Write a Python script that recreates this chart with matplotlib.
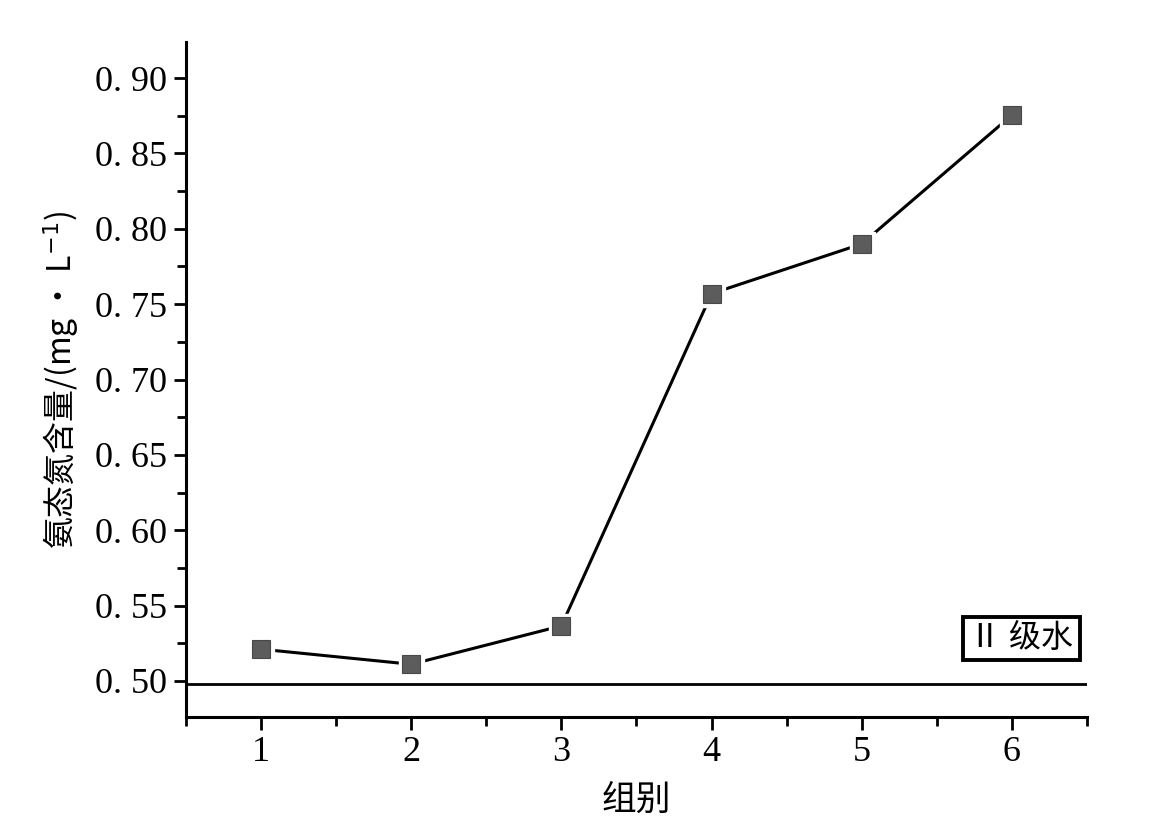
import matplotlib.pyplot as plt
from matplotlib.ticker import MultipleLocator, FixedLocator

plt.rcParams['font.family'] = ['Liberation Serif', 'Noto Sans CJK SC', 'DejaVu Sans']

groups = [1, 2, 3, 4, 5, 6]
ammonia = [0.521, 0.511, 0.5365, 0.757, 0.790, 0.8755]
grade2_limit = 0.498
y_ticks = [0.50, 0.55, 0.60, 0.65, 0.70, 0.75, 0.80, 0.85, 0.90]
y_tick_labels = ["0. 50", "0. 55", "0. 60", "0. 65", "0. 70", "0. 75", "0. 80", "0. 85", "0. 90"]

fig = plt.figure(figsize=(11.6, 8.32), dpi=100)
ax = fig.add_axes([186 / 1160, 1 - 717 / 832, (1087 - 186) / 1160, (717 - 42) / 832])

ax.plot(groups, ammonia, color="black", linewidth=2.2, zorder=2)
ax.plot(groups, ammonia, linestyle="none", marker="s", markersize=18,
        markerfacecolor="white", markeredgecolor="white", zorder=3)
ax.plot(groups, ammonia, linestyle="none", marker="s", markersize=12.5,
        markerfacecolor="#5c5c5c", markeredgecolor="#484848", markeredgewidth=0.8, zorder=4)
ax.axhline(grade2_limit, color="black", linewidth=2.0, zorder=1)

ax.set_xlim(0.5, 6.5)
ax.set_ylim(0.476, 0.924)
ax.xaxis.set_major_locator(FixedLocator(groups))
ax.xaxis.set_minor_locator(MultipleLocator(0.5))
ax.yaxis.set_major_locator(FixedLocator(y_ticks))
ax.yaxis.set_minor_locator(MultipleLocator(0.025))
ax.set_yticklabels(y_tick_labels)

for side in ("top", "right"):
    ax.spines[side].set_visible(False)
for side in ("left", "bottom"):
    ax.spines[side].set_linewidth(2.2)

ax.tick_params(which="major", direction="out", length=9, width=2.0, labelsize=26, pad=5)
ax.tick_params(which="minor", direction="out", length=6.5, width=2.0)

ax.set_xlabel("组别", fontsize=25, family=["Noto Sans CJK SC"], labelpad=10)
ax.set_ylabel("氨态氮含量/(mg · L$^{-1}$)", fontsize=23,
              family=["Noto Sans CJK SC", "DejaVu Sans"], labelpad=10)

ax.text(6.41, 0.528, "Ⅱ 级水", fontsize=23, ha="right", va="center",
        family=["Liberation Serif", "Noto Sans CJK SC"],
        bbox=dict(boxstyle="square,pad=0.2", facecolor="white", edgecolor="black", linewidth=2.8))

fig.savefig("out.png", dpi=100)
